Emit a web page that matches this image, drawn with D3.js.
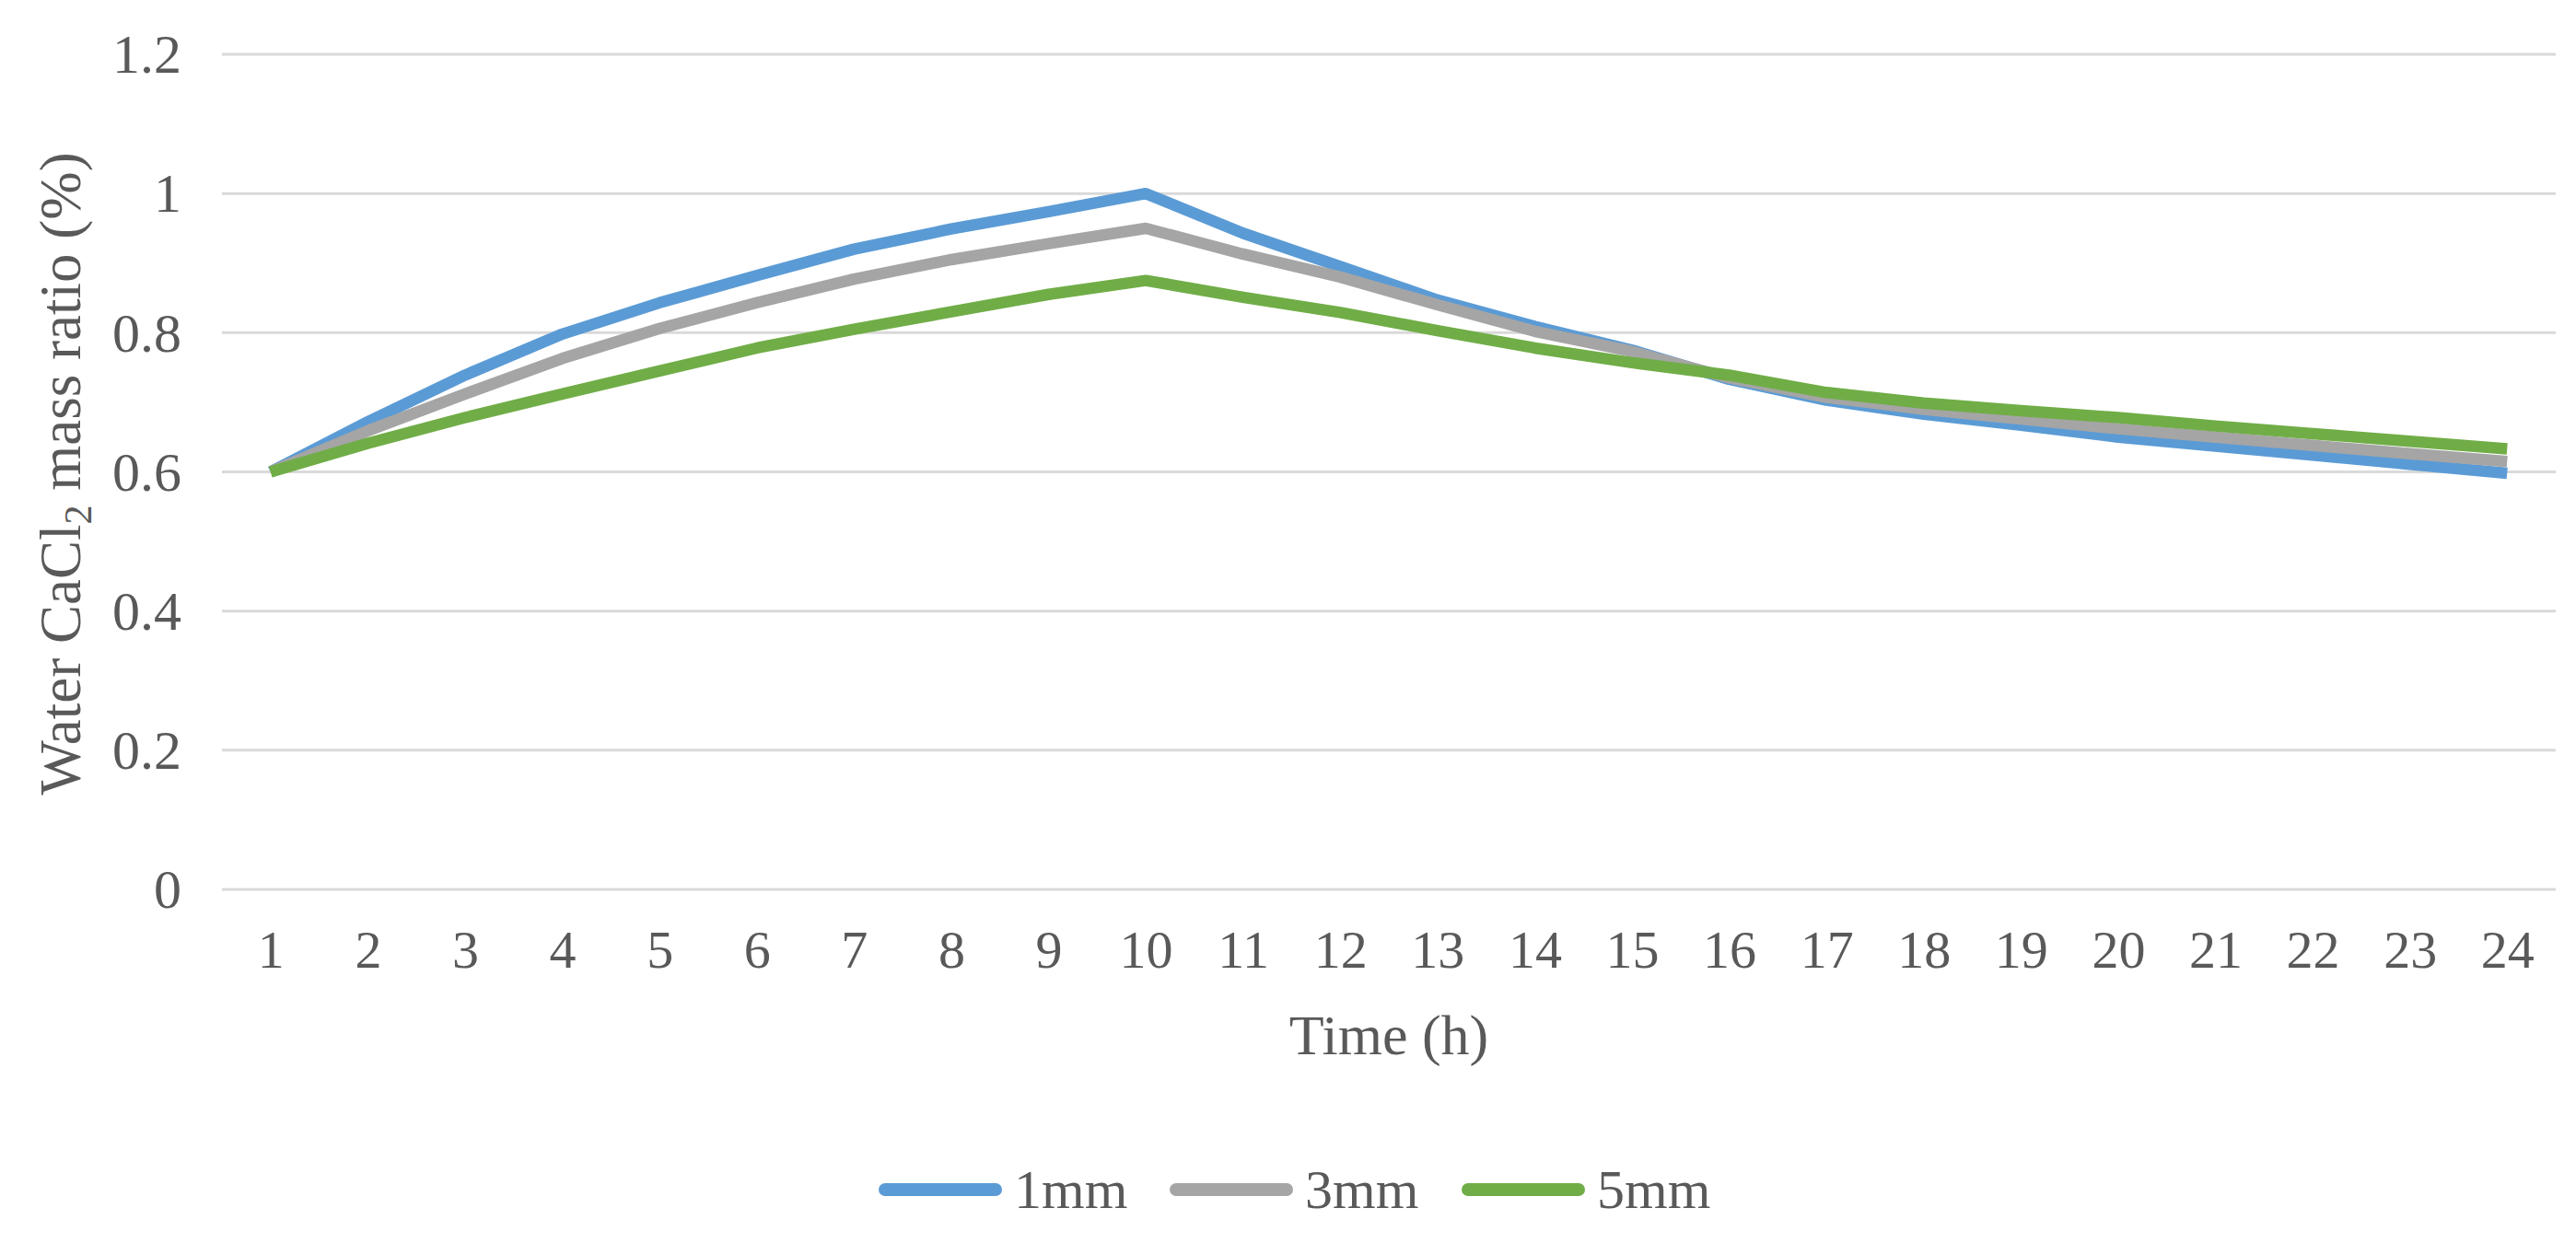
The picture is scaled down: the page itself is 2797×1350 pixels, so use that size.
<!DOCTYPE html>
<html>
<head>
<meta charset="utf-8">
<script src="https://cdn.jsdelivr.net/npm/d3@7/dist/d3.min.js"></script>
<style>
  html, body { margin: 0; padding: 0; background: #fff; }
  svg { display: block; }
  text { font-family: "Liberation Serif", "Times New Roman", serif; fill: #595959; }
</style>
</head>
<body>
<svg id="chart" width="2797" height="1350"></svg>
<script>
// ---- data ----
const categories = ["1","2","3","4","5","6","7","8","9","10","11","12","13","14","15","16","17","18","19","20","21","22","23","24"];
const seriesNames = ["1mm", "3mm", "5mm"];
const values1mm = [0.600, 0.672, 0.739, 0.798, 0.843, 0.882, 0.920, 0.949, 0.974, 1.000, 0.943, 0.895, 0.847, 0.809, 0.775, 0.733, 0.703, 0.683, 0.667, 0.650, 0.637, 0.624, 0.611, 0.598];
const values3mm = [0.600, 0.659, 0.712, 0.763, 0.806, 0.843, 0.877, 0.905, 0.928, 0.950, 0.913, 0.880, 0.840, 0.802, 0.773, 0.735, 0.707, 0.690, 0.676, 0.662, 0.650, 0.638, 0.626, 0.615];
const values5mm = [0.600, 0.641, 0.678, 0.712, 0.745, 0.778, 0.805, 0.830, 0.855, 0.875, 0.851, 0.829, 0.803, 0.778, 0.757, 0.739, 0.714, 0.699, 0.688, 0.678, 0.666, 0.655, 0.644, 0.633];
const yTicks = [0, 0.2, 0.4, 0.6, 0.8, 1, 1.2];
const xTitle = "Time (h)";

const colors = ["#5B9BD5", "#A5A5A5", "#70AD47"];
const series = [values1mm, values3mm, values5mm].map((v, i) => ({ name: seriesNames[i], values: v, color: colors[i] }));

// ---- layout ----
const svg = d3.select("#chart");
const plot = { left: 241, right: 2775, top: 59, bottom: 966 };

const x = d3.scalePoint().domain(categories).range([plot.left, plot.right]).padding(0.5);
const y = d3.scaleLinear().domain([0, 1.2]).range([plot.bottom, plot.top]);

// gridlines
svg.append("g").selectAll("line").data(yTicks).join("line")
  .attr("x1", plot.left).attr("x2", plot.right)
  .attr("y1", d => y(d)).attr("y2", d => y(d))
  .attr("stroke", "#D9D9D9").attr("stroke-width", 3);

// y axis labels
const yAxis = d3.axisLeft(y).tickValues(yTicks).tickSize(0).tickPadding(0).tickFormat(d3.format("~g"));
const gy = svg.append("g").attr("transform", `translate(197,0)`).call(yAxis);
gy.select(".domain").remove();
gy.selectAll("text").attr("font-size", 60).attr("fill", "#595959")
  .style("font-family", '"Liberation Serif", serif').attr("dy", "0.33em");

// x axis labels
const xAxis = d3.axisBottom(x).tickSize(0).tickPadding(0);
const gx = svg.append("g").attr("transform", `translate(0,${plot.bottom})`).call(xAxis);
gx.select(".domain").remove();
gx.selectAll("text").attr("font-size", 58).attr("fill", "#595959")
  .style("font-family", '"Liberation Serif", serif').attr("dy", null).attr("y", 85);

// lines
const line = d3.line().x((d, i) => x(categories[i])).y(d => y(d));
svg.append("g").selectAll("path").data(series).join("path")
  .attr("d", d => line(d.values))
  .attr("fill", "none")
  .attr("stroke", d => d.color)
  .attr("stroke-width", 12.5)
  .attr("stroke-linejoin", "round")
  .attr("stroke-linecap", "butt");

// x title
svg.append("text").attr("x", (plot.left + plot.right) / 2).attr("y", 1145)
  .attr("text-anchor", "middle").attr("font-size", 62).text(xTitle);

// y title with subscript
const yt = svg.append("text")
  .attr("transform", `translate(87,${(plot.top + plot.bottom) / 2 + 2}) rotate(-90)`)
  .attr("text-anchor", "middle").attr("font-size", 63);
yt.append("tspan").text("Water CaCl");
yt.append("tspan").attr("font-size", 42).attr("dy", 12).text("2");
yt.append("tspan").attr("dy", -12).text(" mass ratio (%)");

// legend
const legendX = [954, 1270, 1587];
const lg = svg.append("g").selectAll("g").data(series).join("g")
  .attr("transform", (d, i) => `translate(${legendX[i]},1292)`);
lg.append("line").attr("x1", 7).attr("x2", 127).attr("y1", 0).attr("y2", 0)
  .attr("stroke", d => d.color).attr("stroke-width", 14).attr("stroke-linecap", "round");
lg.append("text").attr("x", 147).attr("y", 20).attr("font-size", 60).text(d => d.name);
</script>
</body>
</html>
